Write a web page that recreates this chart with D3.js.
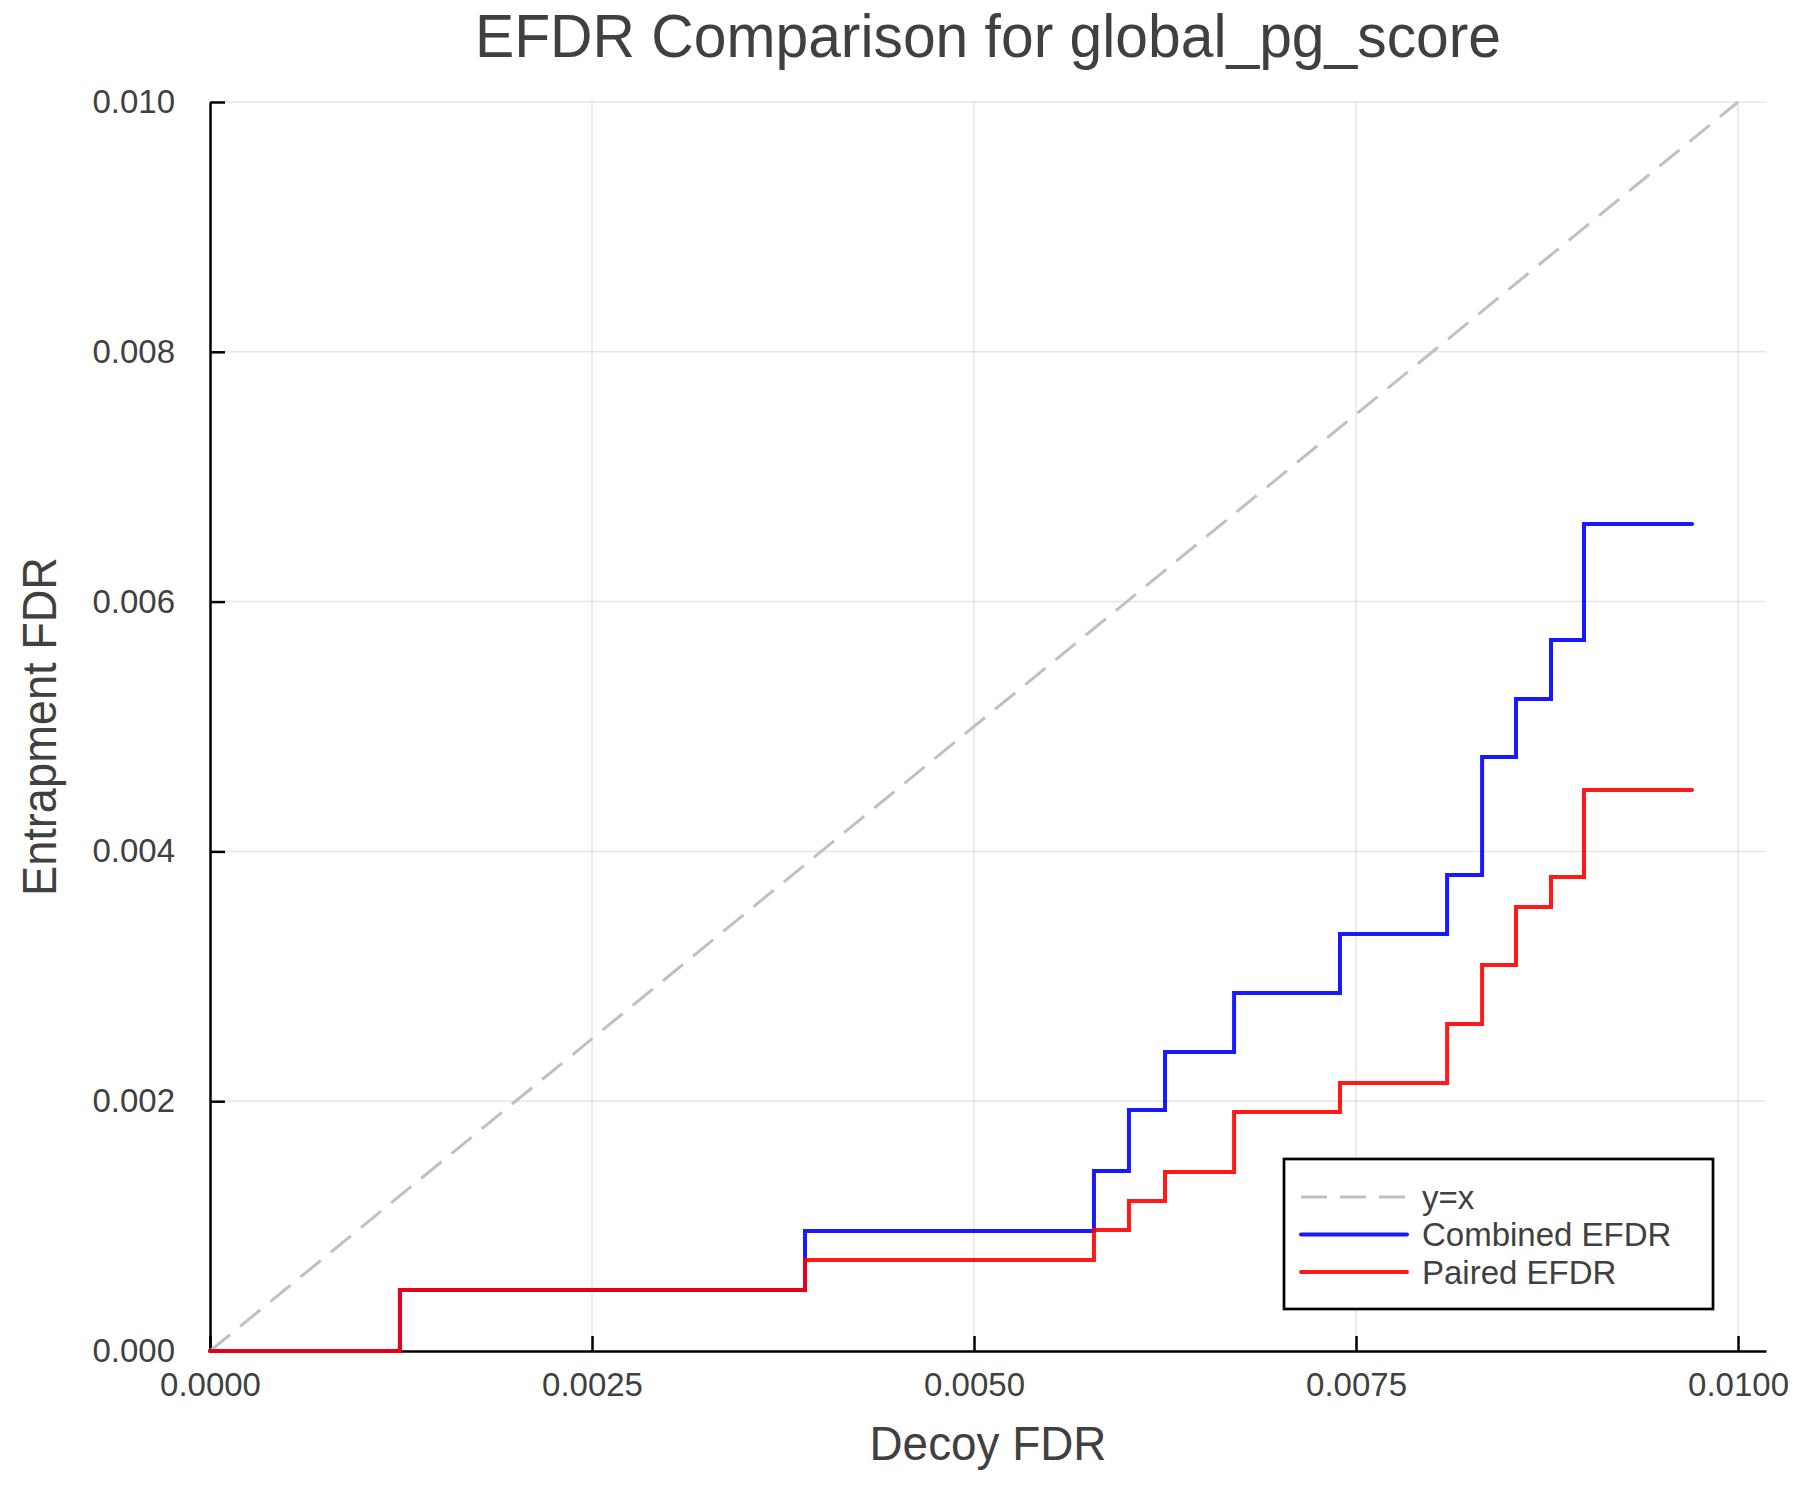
<!DOCTYPE html>
<html>
<head>
<meta charset="utf-8">
<script src="https://cdn.jsdelivr.net/npm/d3@7"></script>
<style>
  body { margin: 0; background: #fff; }
  text { font-family: "Liberation Sans", Arial, Helvetica, sans-serif; }
</style>
</head>
<body>
<div id="chart"></div>
<script>
// Step points (decoy FDR on x, entrapment FDR on y)
const decoyFdr    = [0, 0.001243, 0.003894, 0.005785, 0.006014, 0.006250, 0.006702, 0.007395, 0.008096, 0.008325, 0.008547, 0.008776, 0.008992, 0.009699];
const combinedEfdr = [0, 0.000488, 0.000961, 0.001441, 0.001930, 0.002394, 0.002866, 0.003339, 0.003811, 0.004756, 0.005220, 0.005693, 0.006621, 0.006621];
const pairedEfdr   = [0, 0.000488, 0.000729, 0.000969, 0.001201, 0.001433, 0.001914, 0.002146, 0.002618, 0.003090, 0.003555, 0.003795, 0.004492, 0.004492];

const xTicks = [0, 0.0025, 0.005, 0.0075, 0.01];
const yTicks = [0, 0.002, 0.004, 0.006, 0.008, 0.010];
const legendLabels = ["y=x", "Combined EFDR", "Paired EFDR"];

const width = 1800, height = 1500;
const margin = { top: 102, right: 34, bottom: 149, left: 210 };
const textColor = "#404040";

const svg = d3.select("#chart")
    .append("svg")
    .attr("width", width)
    .attr("height", height);

svg.append("rect")
    .attr("width", width)
    .attr("height", height)
    .attr("fill", "#fff");

// Scales
const x = d3.scaleLinear()
    .domain([0, 0.010183])
    .range([margin.left, width - margin.right]);

const y = d3.scaleLinear()
    .domain([0, 0.01])
    .range([height - margin.bottom, margin.top]);

// Grid
const grid = svg.append("g")
    .attr("stroke", "rgba(0,0,0,0.1)")
    .attr("stroke-width", 1.5);

grid.selectAll(".gx")
    .data(xTicks.slice(1))
    .enter()
    .append("line")
    .attr("x1", d => x(d)).attr("x2", d => x(d))
    .attr("y1", margin.top).attr("y2", height - margin.bottom);

grid.selectAll(".gy")
    .data(yTicks.slice(1))
    .enter()
    .append("line")
    .attr("x1", margin.left).attr("x2", width - margin.right)
    .attr("y1", d => y(d)).attr("y2", d => y(d));

// Axes
const xAxis = svg.append("g")
    .attr("transform", `translate(0, ${height - margin.bottom})`)
    .call(d3.axisBottom(x)
        .tickValues(xTicks)
        .tickFormat(d3.format(".4f"))
        .tickSizeInner(-15)
        .tickSizeOuter(0)
        .tickPadding(22));

const yAxis = svg.append("g")
    .attr("transform", `translate(${margin.left}, 0)`)
    .call(d3.axisLeft(y)
        .tickValues(yTicks)
        .tickFormat(d3.format(".3f"))
        .tickSizeInner(-15)
        .tickSizeOuter(0)
        .tickPadding(35));

[xAxis, yAxis].forEach(g => {
    g.select(".domain").attr("stroke", "#000").attr("stroke-width", 2.5);
    g.selectAll(".tick line").attr("stroke", "#000").attr("stroke-width", 2.5);
    g.selectAll(".tick text")
        .attr("fill", textColor)
        .style("font-size", "33px")
        .style("font-family", "'Liberation Sans', Arial, sans-serif");
});

// y = x reference line
svg.append("line")
    .attr("x1", x(0)).attr("y1", y(0))
    .attr("x2", x(0.01)).attr("y2", y(0.01))
    .attr("stroke", "#c0c0c0")
    .attr("stroke-width", 3)
    .attr("stroke-dasharray", "26,13");

// Step lines
const points = s => decoyFdr.map((d, i) => [d, s[i]]);

const line = d3.line()
    .x(d => x(d[0]))
    .y(d => y(d[1]))
    .curve(d3.curveStepAfter);

svg.append("path")
    .datum(points(combinedEfdr))
    .attr("fill", "none")
    .attr("stroke", "#0000ff")
    .attr("stroke-opacity", 0.9)
    .attr("stroke-width", 4)
    .attr("stroke-linecap", "round")
    .attr("d", line);

svg.append("path")
    .datum(points(pairedEfdr))
    .attr("fill", "none")
    .attr("stroke", "#ff0000")
    .attr("stroke-opacity", 0.9)
    .attr("stroke-width", 4)
    .attr("stroke-linecap", "round")
    .attr("d", line);

// Title and axis labels (the reference font is a little narrower, so squeeze to its width)
svg.append("text")
    .attr("x", (margin.left + width - margin.right) / 2)
    .attr("y", 57)
    .attr("text-anchor", "middle")
    .attr("fill", textColor)
    .attr("textLength", 1026)
    .attr("lengthAdjust", "spacingAndGlyphs")
    .style("font-size", "61px")
    .text("EFDR Comparison for global_pg_score");

svg.append("text")
    .attr("x", (margin.left + width - margin.right) / 2)
    .attr("y", 1460)
    .attr("text-anchor", "middle")
    .attr("fill", textColor)
    .attr("textLength", 237)
    .attr("lengthAdjust", "spacingAndGlyphs")
    .style("font-size", "49px")
    .text("Decoy FDR");

svg.append("text")
    .attr("transform", "rotate(-90)")
    .attr("x", -(margin.top + height - margin.bottom) / 2)
    .attr("y", 56)
    .attr("text-anchor", "middle")
    .attr("fill", textColor)
    .attr("textLength", 339)
    .attr("lengthAdjust", "spacingAndGlyphs")
    .style("font-size", "49px")
    .text("Entrapment FDR");

// Legend
const legend = svg.append("g").attr("transform", "translate(1284, 1159)");

legend.append("rect")
    .attr("width", 429)
    .attr("height", 150)
    .attr("fill", "#fff")
    .attr("stroke", "#000")
    .attr("stroke-width", 2.7);

const legendStyles = [
    { color: "#c0c0c0", width: 3, dash: "26,13", opacity: 1 },
    { color: "#0000ff", width: 4, dash: null, opacity: 0.9 },
    { color: "#ff0000", width: 4, dash: null, opacity: 0.9 }
];

const rows = legend.selectAll(".row")
    .data(legendLabels)
    .enter()
    .append("g")
    .attr("transform", (d, i) => `translate(0, ${38 + i * 37.5})`);

rows.append("line")
    .attr("x1", 17).attr("x2", 123)
    .attr("stroke", (d, i) => legendStyles[i].color)
    .attr("stroke-width", (d, i) => legendStyles[i].width)
    .attr("stroke-opacity", (d, i) => legendStyles[i].opacity)
    .attr("stroke-dasharray", (d, i) => legendStyles[i].dash)
    .attr("stroke-linecap", (d, i) => legendStyles[i].dash ? "butt" : "round");

rows.append("text")
    .attr("x", 138)
    .attr("dy", "0.35em")
    .attr("fill", textColor)
    .style("font-size", "33px")
    .text(d => d);
</script>
</body>
</html>
